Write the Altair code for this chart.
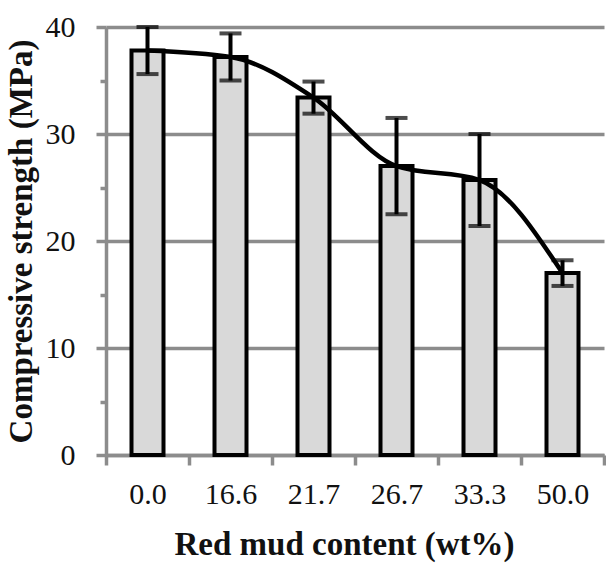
import altair as alt
import pandas as pd

categories = ["0.0", "16.6", "21.7", "26.7", "33.3", "50.0"]
strength = [37.8, 37.2, 33.4, 27.0, 25.7, 17.0]
error = [2.2, 2.2, 1.5, 4.5, 4.3, 1.2]

df = pd.DataFrame({"content": categories, "strength": strength, "error": error})
df["lo"] = df["strength"] - df["error"]
df["hi"] = df["strength"] + df["error"]

FONT = "Liberation Serif"
GRID = "#8c8c8c"
INK = "#111111"

major = "datum.value % 10 == 0"

x_enc = alt.X(
    "content:N",
    sort=categories,
    title="Red mud content (wt%)",
    scale=alt.Scale(paddingInner=0, paddingOuter=0),
    axis=alt.Axis(
        labelAngle=0,
        tickBand="extent",
        tickSize=10,
        labelPadding=14,
        titlePadding=19,
        titleX=238,
        grid=False,
    ),
)

y_enc = alt.Y(
    "strength:Q",
    title="Compressive strength (MPa)",
    scale=alt.Scale(domain=[0, 40], nice=False),
    axis=alt.Axis(
        values=list(range(0, 41, 5)),
        labelExpr="datum.value % 10 == 0 ? datum.label : ''",
        tickSize={"condition": {"test": major, "value": 10}, "value": 6},
        gridOpacity={"condition": {"test": major, "value": 1}, "value": 0},
        labelPadding=21,
        titlePadding=7,
    ),
)

base = alt.Chart(df)

bars = base.mark_bar(size=32, fill="#d9d9d9", stroke="black", strokeWidth=4).encode(
    x=x_enc, y=y_enc
)

rules = base.mark_rule(color="black", strokeWidth=4).encode(
    x=alt.X("content:N", sort=categories),
    y="lo:Q",
    y2="hi:Q",
)

caps_hi = base.mark_tick(color="black", size=22, thickness=4).encode(
    x=alt.X("content:N", sort=categories), y="hi:Q"
)
caps_lo = base.mark_tick(color="black", size=22, thickness=4).encode(
    x=alt.X("content:N", sort=categories), y="lo:Q"
)

line = base.mark_line(color="black", strokeWidth=4.5, interpolate="monotone").encode(
    x=alt.X("content:N", sort=categories), y="strength:Q"
)

chart = (
    alt.layer(bars, rules, caps_hi, caps_lo, line)
    .properties(
        width=606,
        height=563,
        autosize=alt.AutoSizeParams(type="fit", contains="padding"),
        padding={"left": 5, "top": 12, "right": 0, "bottom": 2},
    )
    .configure_view(stroke=None)
    .configure_axis(
        domainColor=GRID,
        domainWidth=3.5,
        tickColor=GRID,
        tickWidth=3.5,
        gridColor=GRID,
        gridWidth=3.5,
        labelFont=FONT,
        labelFontSize=30,
        labelColor=INK,
        titleFont=FONT,
        titleFontSize=33,
        titleFontWeight="bold",
        titleColor=INK,
    )
)

chart.save("out.html", embed_options={"renderer": "svg", "actions": False})
